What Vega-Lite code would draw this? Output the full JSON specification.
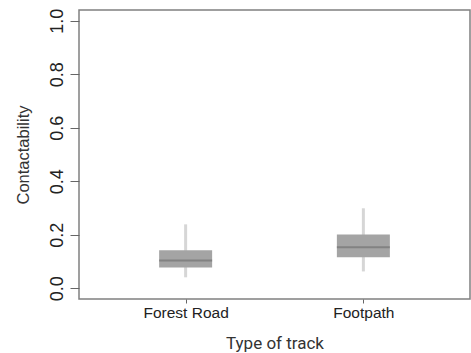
{
  "$schema": "https://vega.github.io/schema/vega-lite/v6.json",
  "width": 391,
  "height": 289,
  "autosize": {"type": "none"},
  "padding": {"left": 79, "top": 10, "right": 1, "bottom": 54},
  "background": "white",
  "config": {
    "view": {"stroke": "#808080", "strokeWidth": 1.5},
    "axis": {"grid": false, "domain": false, "tickColor": "#666666", "labelColor": "#222222", "titleColor": "#333333", "labelFont": "Liberation Sans", "titleFont": "Liberation Sans", "titleFontWeight": "normal"}
  },
  "data": {"values": [
    {"track": "Forest Road", "min": 0.041, "q1": 0.078, "median": 0.104, "q3": 0.142, "max": 0.239},
    {"track": "Footpath", "min": 0.063, "q1": 0.116, "median": 0.153, "q3": 0.201, "max": 0.299}
  ]},
  "encoding": {
    "x": {
      "field": "track", "type": "nominal", "sort": null,
      "scale": {"type": "point", "padding": 0.6},
      "axis": {"title": "Type of track", "labelAngle": 0, "labelFontSize": 15.5, "tickSize": 4, "labelPadding": 2, "titleFont": "Roboto", "titleFontSize": 17, "titlePadding": 15}
    }
  },
  "layer": [
    {
      "mark": {"type": "rule", "color": "#d6d6d6", "strokeWidth": 3},
      "encoding": {
        "y": {"field": "min", "type": "quantitative", "scale": {"domain": [-0.04, 1.04], "nice": false, "zero": false},
          "axis": {"title": "Contactability", "values": [0, 0.2, 0.4, 0.6, 0.8, 1.0], "format": ".1f", "labelAngle": 270, "labelAlign": "center", "labelBaseline": "alphabetic", "labelFontSize": 18, "labelPadding": 8, "tickSize": 9, "titleFontSize": 16.5, "titlePadding": 17}},
        "y2": {"field": "max"}
      }
    },
    {
      "mark": {"type": "bar", "color": "#a4a4a4", "size": 53},
      "encoding": {
        "y": {"field": "q1", "type": "quantitative"},
        "y2": {"field": "q3"}
      }
    },
    {
      "mark": {"type": "tick", "color": "#747474", "size": 53, "thickness": 2},
      "encoding": {
        "y": {"field": "median", "type": "quantitative"}
      }
    }
  ]
}
